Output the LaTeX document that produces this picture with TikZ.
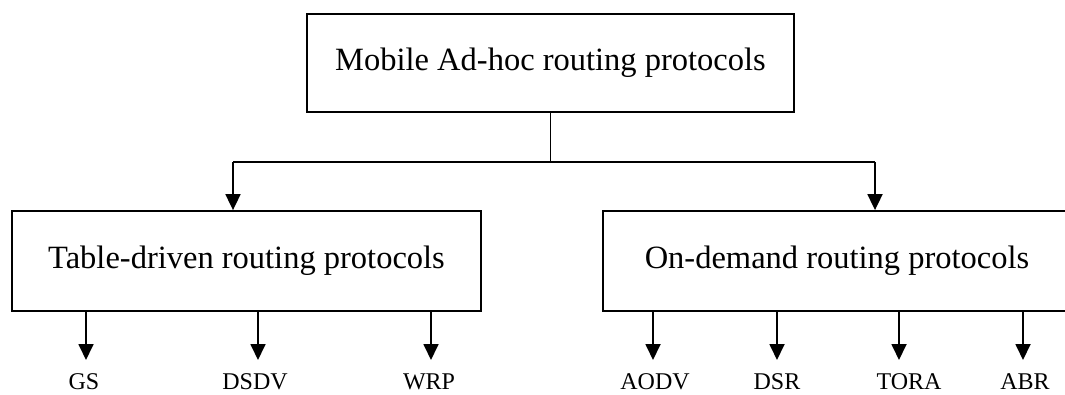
\documentclass[tikz,border=0pt]{standalone}
\usepackage{fontspec}
\setmainfont{Liberation Serif}
\usetikzlibrary{arrows.meta}
\tikzset{
  box/.style={draw=black, line width=1.8pt, inner sep=0pt, font=\fontsize{32.5}{36}\selectfont},
  lbl/.style={inner sep=0pt, anchor=base, font=\fontsize{24}{28}\selectfont},
  conn/.style={draw=black, line width=1.8pt},
  arr/.style={conn, -{Triangle[length=16pt,width=15pt]}},
}
\begin{document}
\begin{tikzpicture}[x=1pt,y=1pt]
\clip (0,0) rectangle (1065,394);
\fill[white] (0,0) rectangle (1065,394);
\node[box, minimum width=487pt, minimum height=98pt] (top) at (550.5,331) {Mobile Ad-hoc routing protocols};
\node[box, minimum width=469pt, minimum height=100pt] (tab) at (246.5,133) {Table-driven routing protocols};
\node[box, minimum width=468pt, minimum height=100pt] (ond) at (837,133) {On-demand routing protocols};
\coordinate (j) at (550.5,232);
\coordinate (jl) at (233,232);
\coordinate (jr) at (875,232);
\draw[conn] (top.south) -- (j);
\draw[conn] (jl) -- (jr);
\draw[arr] (jl) -- (jl |- tab.north);
\draw[arr] (jr) -- (jr |- ond.north);
% labels
\node[lbl] (gs) at (84,5) {GS};
\node[lbl] (dsdv) at (255,5) {DSDV};
\node[lbl] (wrp) at (429,5) {WRP};
\node[lbl] (aodv) at (655,5) {AODV};
\node[lbl] (dsr) at (777,5) {DSR};
\node[lbl] (tora) at (909,5) {TORA};
\node[lbl] (abr) at (1025,5) {ABR};
% arrow end points
\coordinate (egs) at (86,34);
\coordinate (edsdv) at (258,34);
\coordinate (ewrp) at (431,34);
\coordinate (eaodv) at (653,34);
\coordinate (edsr) at (777,34);
\coordinate (etora) at (899,34);
\coordinate (eabr) at (1023,34);
\draw[arr] (egs |- tab.south) -- (egs);
\draw[arr] (edsdv |- tab.south) -- (edsdv);
\draw[arr] (ewrp |- tab.south) -- (ewrp);
\draw[arr] (eaodv |- ond.south) -- (eaodv);
\draw[arr] (edsr |- ond.south) -- (edsr);
\draw[arr] (etora |- ond.south) -- (etora);
\draw[arr] (eabr |- ond.south) -- (eabr);
\end{tikzpicture}
\end{document}
